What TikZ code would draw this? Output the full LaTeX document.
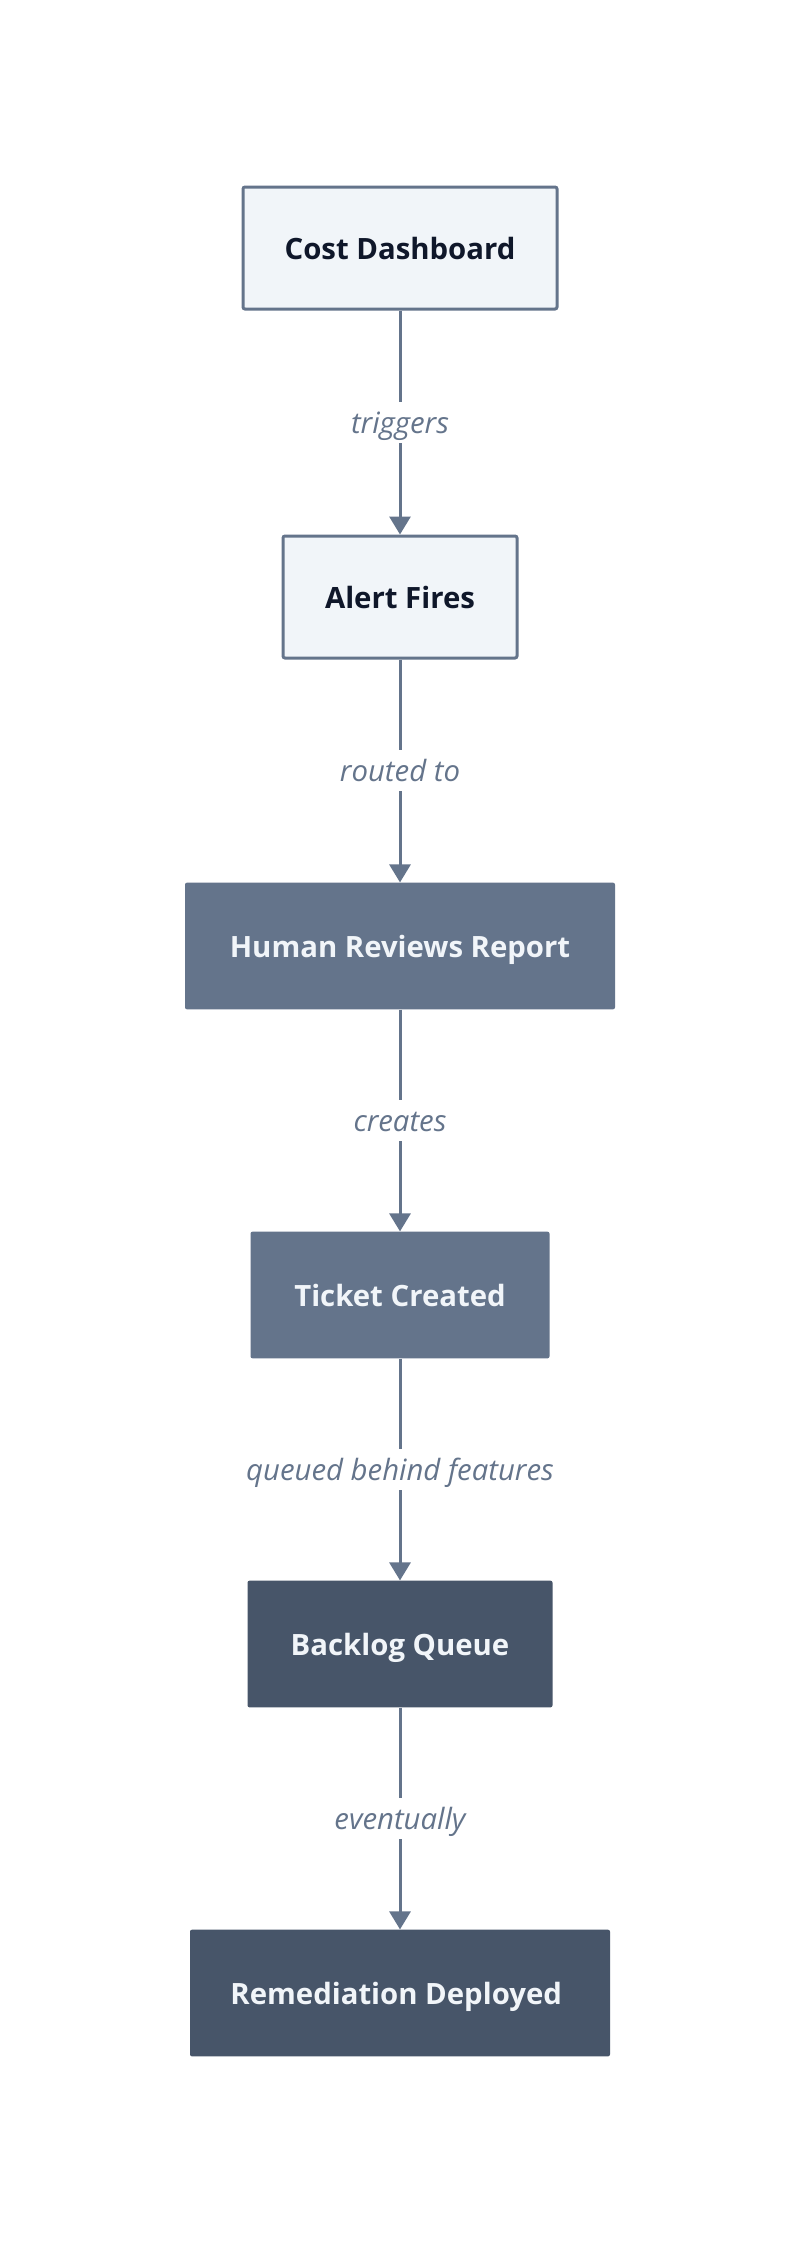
\documentclass[tikz,border=0pt]{standalone}
\usepackage{fontspec}
\setmainfont{Open Sans}
\usetikzlibrary{arrows.meta}

\definecolor{slatelight}{HTML}{F1F5F9}
\definecolor{slatemid}{HTML}{64748B}
\definecolor{slatedark}{HTML}{475569}
\definecolor{slateink}{HTML}{0F172A}

\tikzset{
    stage/.style={rectangle, rounded corners=1.5pt, minimum height=95pt,
        text height=19.7pt, text depth=2.3pt,
        font=\bfseries\fontsize{22}{26}\selectfont, align=center},
    light/.style={stage, minimum height=91.5pt, fill=slatelight, draw=slatemid,
        line width=2.25pt, text=slateink},
    mid/.style={stage, fill=slatemid, text=slatelight},
    dark/.style={stage, fill=slatedark, text=slatelight},
    flow/.style={-{Triangle[width=15.75pt, length=13.5pt]}, draw=slatemid, line width=2.25pt},
    why/.style={midway, fill=white, text=slatemid, inner xsep=4pt, inner ysep=4.4pt,
        text height=19pt, text depth=3pt, font=\itshape\fontsize{22}{26}\selectfont}
}

\begin{document}
\begin{tikzpicture}[x=0.75pt, y=-0.75pt]
\useasboundingbox[fill=white] (0,0) rectangle (800,2243);

\foreach \n/\s/\w/\t [count=\i from 0] in {
    cost/light/235.5pt/Cost Dashboard,
    alert/light/175.5pt/Alert Fires,
    human/mid/322.5pt/Human Reviews Report,
    ticket/mid/224.25pt/Ticket Created,
    backlog/dark/228.75pt/Backlog Queue,
    remed/dark/315pt/Remediation Deployed
} {
    \node[\s, minimum width=\w] (\n) at (400, {248+349*\i}) {\t};
}

\foreach \a/\b/\l in {
    cost/alert/triggers,
    alert/human/routed to,
    human/ticket/creates,
    ticket/backlog/queued behind features,
    backlog/remed/eventually
} {
    \draw[flow] (\a) -- node[why]{\l} (\b);
}

\end{tikzpicture}
\end{document}
